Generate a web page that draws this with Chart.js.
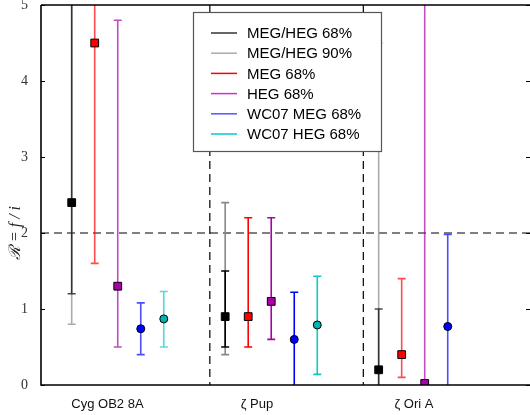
<!DOCTYPE html>
<html>
<head>
<meta charset="utf-8">
<script src="https://cdn.jsdelivr.net/npm/chart.js@4.4.1/dist/chart.umd.min.js"></script>
<style>
    html, body { margin: 0; padding: 0; background: #fff; }
    #wrap { width: 530px; height: 415px; }
</style>
</head>
<body>
<div id="wrap"><canvas id="chart1"></canvas></div>
<script>
// stars and where their names sit on the x axis
const stars = ['Cyg OB2 8A', 'ζ Pup', 'ζ Ori A'];
const starLabelPos = [-0.067, 0.907, 1.93];
const yTicks = [0, 1, 2, 3, 4, 5];

// R = f/i, best value and lower / upper bounds per star (6 = off the top)
const combValue = [2.4, 0.9, 0.2];
const comb68Lo = [1.2, 0.5, 0];
const comb68Hi = [6, 1.5, 1.0];
const comb90Lo = [0.8, 0.4, 0];
const comb90Hi = [6, 2.4, 4.5];

const megValue = [4.5, 0.9, 0.4];
const megLo = [1.6, 0.5, 0.1];
const megHi = [6, 2.2, 1.4];

const hegValue = [1.3, 1.1, 0.02];
const hegLo = [0.5, 0.6, 0];
const hegHi = [4.8, 2.2, 6];

const wcMegValue = [0.74, 0.6, 0.77];
const wcMegLo = [0.4, 0, 0];
const wcMegHi = [1.08, 1.22, 1.98];

const wcHegValue = [0.87, 0.79, null];
const wcHegLo = [0.5, 0.14, null];
const wcHegHi = [1.23, 1.43, null];

// styling
const slotOffset = [-0.3, -0.15, 0, 0.15, 0.3];
const groupAlpha = [0.7, 1, 0.7];
const sepLines = [0.6, 1.6];
const refLevel = 2;

function makeSet(label, slot, values, lo, hi, fill, barColor, style, radius) {
    const pts = [];
    stars.forEach((s, g) => {
        if (values[g] == null) return;
        pts.push({ x: g + slotOffset[slot], y: values[g], lo: lo[g], hi: hi[g], g: g });
    });
    return {
        label: label,
        data: pts,
        showLine: false,
        pointStyle: style,
        pointRadius: radius,
        pointHoverRadius: radius,
        backgroundColor: fill,
        borderColor: '#000',
        pointBorderWidth: 1,
        barColor: barColor,
        clip: 0
    };
}

const datasets = [
    makeSet('MEG/HEG 90%', 0, combValue, comb90Lo, comb90Hi, '#000', '#888', 'rect', 0),
    makeSet('MEG/HEG 68%', 0, combValue, comb68Lo, comb68Hi, '#000', '#000', 'rect', 5.5),
    makeSet('MEG 68%', 1, megValue, megLo, megHi, '#f00', '#f00', 'rect', 5.5),
    makeSet('HEG 68%', 2, hegValue, hegLo, hegHi, '#a0a', '#a0a', 'rect', 5.5),
    makeSet('WC07 MEG 68%', 3, wcMegValue, wcMegLo, wcMegHi, '#00f', '#00f', 'circle', 4),
    makeSet('WC07 HEG 68%', 4, wcHegValue, wcHegLo, wcHegHi, '#00b4b4', '#10c8c8', 'circle', 4)
];

const legendItems = [
    ['MEG/HEG 68%', '#333'],
    ['MEG/HEG 90%', '#aaa'],
    ['MEG 68%', '#f00'],
    ['HEG 68%', '#c3c'],
    ['WC07 MEG 68%', '#55f'],
    ['WC07 HEG 68%', '#0cc']
];

// error bars + dashed guides, under the markers
const errorBars = {
    id: 'errorBars',
    beforeDatasetsDraw(chart) {
        const { ctx, chartArea, scales: { x, y } } = chart;
        ctx.save();
        ctx.beginPath();
        ctx.rect(chartArea.left, chartArea.top, chartArea.width, chartArea.height);
        ctx.clip();

        ctx.strokeStyle = '#000';
        ctx.lineWidth = 1.2;
        ctx.setLineDash([8, 5]);
        const yr = y.getPixelForValue(refLevel);
        ctx.beginPath();
        ctx.moveTo(chartArea.left, yr);
        ctx.lineTo(chartArea.right, yr);
        sepLines.forEach(v => {
            const px = x.getPixelForValue(v);
            ctx.moveTo(px, chartArea.top);
            ctx.lineTo(px, chartArea.bottom);
        });
        ctx.stroke();
        ctx.setLineDash([]);

        chart.data.datasets.forEach(ds => {
            ds.data.forEach(p => {
                if (p.lo == null) return;
                const px = x.getPixelForValue(p.x);
                const yl = y.getPixelForValue(p.lo);
                const yh = y.getPixelForValue(p.hi);
                ctx.globalAlpha = groupAlpha[p.g];
                ctx.strokeStyle = ds.barColor;
                ctx.lineWidth = 1.6;
                ctx.beginPath();
                ctx.moveTo(px, yl);
                ctx.lineTo(px, yh);
                [yl, yh].forEach(yy => {
                    if (yy > chartArea.top && yy < chartArea.bottom) {
                        ctx.moveTo(px - 4, yy);
                        ctx.lineTo(px + 4, yy);
                    }
                });
                ctx.stroke();
            });
        });
        ctx.restore();
    },
    afterDraw(chart) {
        const { ctx, chartArea, scales: { y } } = chart;
        ctx.save();
        // frame
        ctx.strokeStyle = '#000';
        ctx.lineWidth = 1.6;
        ctx.beginPath();
        ctx.moveTo(chartArea.left, chartArea.top);
        ctx.lineTo(chartArea.left, chartArea.bottom);
        ctx.lineTo(chartArea.right, chartArea.bottom);
        ctx.moveTo(chartArea.left, chartArea.top);
        ctx.lineTo(chartArea.right, chartArea.top);
        ctx.stroke();
        // inward ticks on both sides
        ctx.lineWidth = 1;
        ctx.beginPath();
        yTicks.forEach(v => {
            const py = Math.round(y.getPixelForValue(v)) + 0.5;
            ctx.moveTo(chartArea.left, py);
            ctx.lineTo(chartArea.left + 4, py);
            ctx.moveTo(chartArea.right, py);
            ctx.lineTo(chartArea.right - 4, py);
        });
        ctx.stroke();

        // y title
        ctx.save();
        ctx.translate(16, y.getPixelForValue(refLevel));
        ctx.rotate(-Math.PI / 2);
        ctx.fillStyle = '#222';
        ctx.textAlign = 'center';
        ctx.textBaseline = 'middle';
        ctx.font = 'italic 16px "Liberation Serif"';
        ctx.fillText('ℛ = f / i', 0, 0);
        ctx.restore();

        // legend box
        const bx = 193, by = 12, bw = 188, bh = 139;
        ctx.fillStyle = '#fff';
        ctx.fillRect(bx, by, bw, bh);
        ctx.strokeStyle = '#555';
        ctx.lineWidth = 1.2;
        ctx.strokeRect(bx + 0.5, by + 0.5, bw, bh);
        ctx.font = '15px "Liberation Sans"';
        ctx.textBaseline = 'middle';
        ctx.textAlign = 'left';
        legendItems.forEach((it, i) => {
            const ly = by + 21 + i * 20.2;
            ctx.strokeStyle = it[1];
            ctx.lineWidth = 1.5;
            ctx.beginPath();
            ctx.moveTo(bx + 18, ly);
            ctx.lineTo(bx + 44, ly);
            ctx.stroke();
            ctx.fillStyle = '#000';
            ctx.fillText(it[0], bx + 54, ly + 1);
        });
        ctx.restore();
    }
};

new Chart(document.getElementById('chart1').getContext('2d'), {
    type: 'scatter',
    data: { datasets: datasets },
    plugins: [errorBars],
    options: {
        responsive: true,
        maintainAspectRatio: false,
        animation: false,
        layout: { autoPadding: false, padding: { top: 5, right: 0, left: 0, bottom: 0 } },
        plugins: {
            legend: { display: false },
            tooltip: { enabled: false }
        },
        scales: {
            x: {
                type: 'linear',
                min: -0.5,
                max: 2.686,
                grid: { display: false },
                border: { display: false },
                afterBuildTicks: scale => {
                    scale.ticks = starLabelPos.map(v => ({ value: v }));
                },
                afterFit: scale => {
                    scale.height = 30;
                    scale.paddingLeft = 0;
                    scale.paddingRight = 0;
                },
                ticks: {
                    autoSkip: false,
                    maxRotation: 0,
                    padding: 4,
                    color: '#111',
                    font: { family: 'Liberation Sans', size: 13 },
                    callback: (v, i) => stars[i]
                }
            },
            y: {
                min: 0,
                max: 5,
                grid: { display: false },
                border: { display: false },
                afterBuildTicks: scale => {
                    scale.ticks = yTicks.map(v => ({ value: v }));
                },
                afterFit: scale => {
                    scale.width = 41;
                    scale.paddingTop = 0;
                    scale.paddingBottom = 0;
                },
                ticks: {
                    padding: 5,
                    color: '#333',
                    font: { family: 'Liberation Serif', size: 14 }
                }
            }
        }
    }
});
</script>
</body>
</html>
